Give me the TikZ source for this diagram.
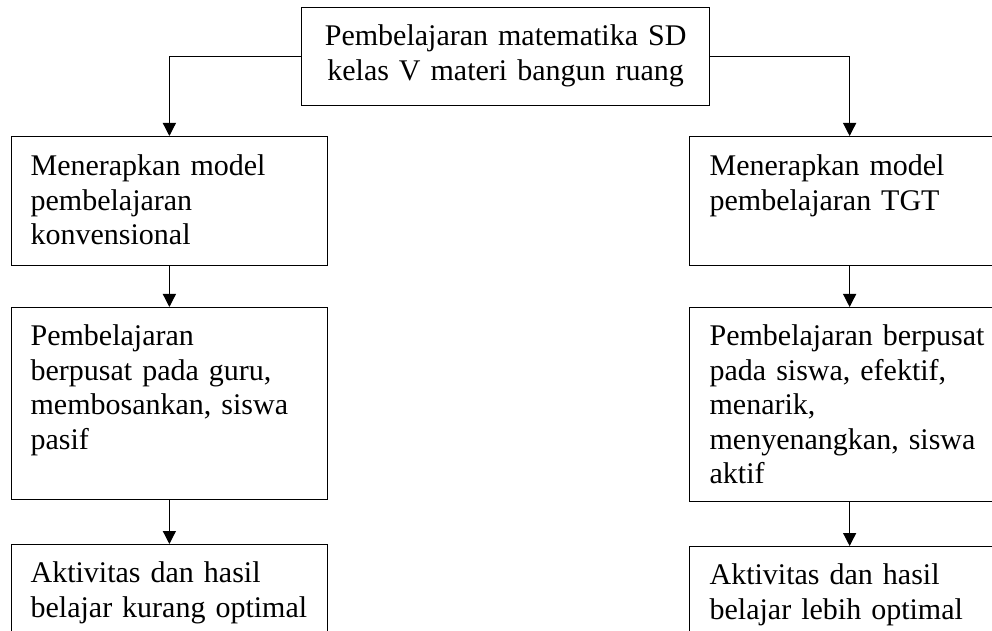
\documentclass[tikz,border=0pt]{standalone}
\usepackage{fontspec}
\setmainfont{Liberation Serif}
\usepackage{tikz}
\usetikzlibrary{arrows.meta}
\tikzstyle{stage} = [
    rectangle,
    draw=black,
    line width=0.5pt,
    anchor=north west,
    inner xsep=8pt,
    inner ysep=0pt,
    align=left,
    font=\fontsize{12}{13.8}\selectfont
]
\tikzstyle{leftcol}  = [stage, inner xsep=7.6pt, text width=111pt]
\tikzstyle{rightcol} = [stage, text width=112pt]
\tikzstyle{link}  = [
    draw,
    line width=0.5pt,
    -{Triangle[length=5.2pt,width=5.2pt]}
]

\begin{document}
\begin{tikzpicture}[x = 0.4pt, y = -0.4pt]
\useasboundingbox (0,0) rectangle (992,631);
\clip (0,0) rectangle (992,631);

\node[stage, align=center, text width=147.2pt,
      text height=15.2pt, text depth=24pt] (topik) at (301,7)
{Pembelajaran matematika SD\\
kelas V materi bangun ruang};

% kiri
\node[leftcol, text height=15.6pt, text depth=36pt] (konv) at (11,136)
{Menerapkan model\\
pembelajaran\\
konvensional};

\node[leftcol, text height=15.2pt, text depth=61.6pt] (guru) at (11,307)
{Pembelajaran\\
berpusat pada guru,\\
membosankan, siswa\\
pasif};

\node[leftcol, text height=15.2pt, text depth=30pt] (kurang) at (11,544)
{Aktivitas dan hasil\\
belajar kurang optimal};

% kanan
\node[rightcol, text height=15.6pt, text depth=36pt] (tgt) at (689,136)
{Menerapkan model\\
pembelajaran TGT};

\node[rightcol, text height=15.2pt, text depth=62.4pt] (siswa) at (689,307)
{Pembelajaran berpusat\\
pada siswa, efektif,\\
menarik,\\
menyenangkan, siswa\\
aktif};

\node[rightcol, text height=15.2pt, text depth=30pt] (lebih) at (689,546)
{Aktivitas dan hasil\\
belajar lebih optimal};

\draw[link] (topik.west) -| (konv.north);
\draw[link] (topik.east) -| (tgt.north);
\draw[link] (konv)      --  (guru);
\draw[link] (guru)      --  (kurang);
\draw[link] (tgt)       --  (siswa);
\draw[link] (siswa)     --  (lebih);
\end{tikzpicture}
\end{document}
